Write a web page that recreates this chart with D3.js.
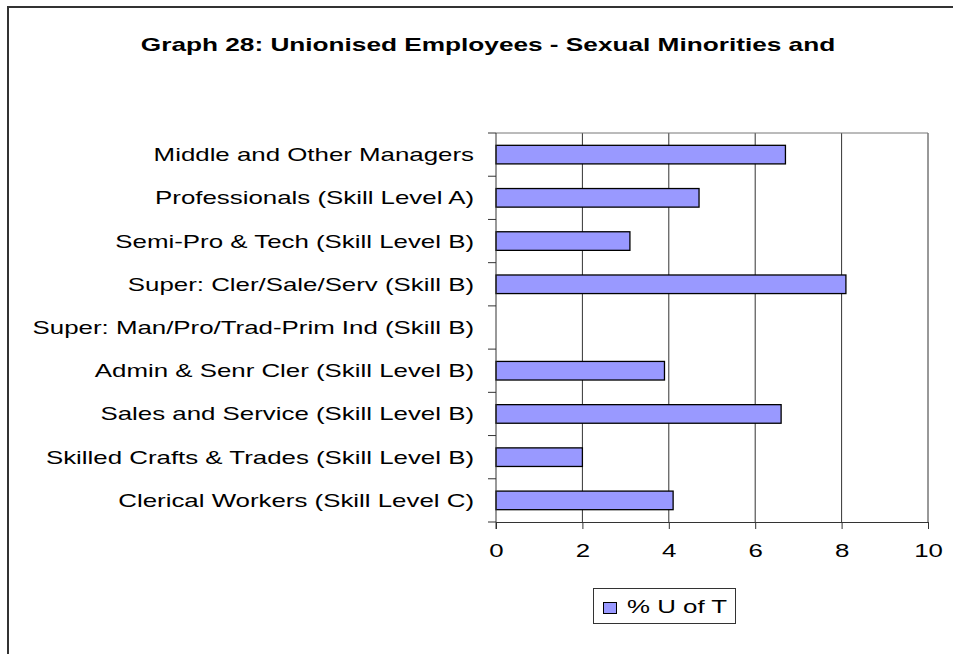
<!DOCTYPE html>
<html>
<head>
<meta charset="utf-8">
<script src="https://cdn.jsdelivr.net/npm/d3@7"></script>
<style>
  body { margin: 0; background: #fff; }
  svg { display: block; font-family: Arial, "Liberation Sans", sans-serif; }
</style>
</head>
<body>
<div id="chart"></div>
<script>
// categories, top to bottom
var categories = [
  "Middle and Other Managers",
  "Professionals (Skill Level A)",
  "Semi-Pro & Tech (Skill Level B)",
  "Super: Cler/Sale/Serv (Skill B)",
  "Super: Man/Pro/Trad-Prim Ind (Skill B)",
  "Admin & Senr Cler (Skill Level B)",
  "Sales and Service (Skill Level B)",
  "Skilled Crafts & Trades (Skill Level B)",
  "Clerical Workers (Skill Level C)"
];
var pctUofT = [6.7, 4.7, 3.1, 8.1, 0, 3.9, 6.6, 2.0, 4.1];
var xTicks = [0, 2, 4, 6, 8, 10];
var seriesName = "% U of T";
var title = "Graph 28: Unionised Employees - Sexual Minorities and";

var W = 953, H = 654;
var plotL = 496, plotR = 928, plotT = 133, plotB = 522;
var fs = 18.6;      // font size
var sx = 1.39;      // the original picture is stretched sideways

var svg = d3.select("#chart").append("svg")
  .attr("width", W)
  .attr("height", H);

// outer chart frame (runs off right and bottom edge)
svg.append("path")
  .attr("d", "M8," + (H + 5) + "V7H" + (W + 5))
  .attr("fill", "none")
  .attr("stroke", "#333")
  .attr("stroke-width", 2);

svg.append("text")
  .attr("transform", "translate(488,51) scale(1.38,1)")
  .attr("text-anchor", "middle")
  .attr("font-size", 19)
  .attr("font-weight", "bold")
  .text(title);

var x = d3.scaleLinear().domain([0, 10]).range([plotL, plotR]);
var y = d3.scaleBand().domain(categories).range([plotT, plotB])
  .paddingInner(0.57).paddingOuter(0.285);
var yEdges = d3.scaleBand().domain(categories).range([plotT, plotB]);

// vertical gridlines
svg.append("g")
  .selectAll("line")
  .data(xTicks.slice(1))
  .join("line")
  .attr("x1", d => x(d)).attr("x2", d => x(d))
  .attr("y1", plotT).attr("y2", plotB)
  .attr("stroke", "#333")
  .attr("stroke-width", 1);

// top border of plot area
svg.append("line")
  .attr("x1", plotL).attr("x2", plotR)
  .attr("y1", plotT).attr("y2", plotT)
  .attr("stroke", "#777")
  .attr("stroke-width", 1);

// bars
svg.append("g")
  .selectAll("rect")
  .data(pctUofT)
  .join("rect")
  .attr("x", x(0))
  .attr("y", (d, i) => y(categories[i]))
  .attr("width", d => x(d) - x(0))
  .attr("height", y.bandwidth())
  .attr("fill", d => d > 0 ? "#9999ff" : "none")
  .attr("stroke", d => d > 0 ? "#000" : "none")
  .attr("stroke-width", 1.3);

// x axis
var xAxis = svg.append("g")
  .attr("transform", "translate(0," + plotB + ")")
  .call(d3.axisBottom(x).tickValues(xTicks).tickSizeInner(7).tickSizeOuter(0).tickPadding(15));
xAxis.select(".domain").attr("stroke", "#333");
xAxis.selectAll(".tick line").attr("stroke", "#333");
xAxis.selectAll("text")
  .attr("font-size", fs)
  .attr("font-family", "Arial, 'Liberation Sans', sans-serif")
  .attr("fill", "#000")
  .attr("transform", "scale(" + sx + ",1)");

// y axis line with ticks at band edges
svg.append("line")
  .attr("x1", plotL).attr("x2", plotL)
  .attr("y1", plotT).attr("y2", plotB + 7)
  .attr("stroke", "#333");
svg.append("g")
  .selectAll("line")
  .data(categories.concat(["_end"]))
  .join("line")
  .attr("x1", plotL - 8).attr("x2", plotL)
  .attr("y1", (d, i) => plotT + i * yEdges.step())
  .attr("y2", (d, i) => plotT + i * yEdges.step())
  .attr("stroke", "#333");

// category labels
svg.append("g")
  .selectAll("text")
  .data(categories)
  .join("text")
  .attr("transform", d => "translate(474," + (yEdges(d) + yEdges.bandwidth() / 2) + ") scale(" + sx + ",1)")
  .attr("dy", "0.35em")
  .attr("text-anchor", "end")
  .attr("font-size", fs)
  .text(d => d);

// legend
var lg = svg.append("g");
lg.append("rect")
  .attr("x", 593.5).attr("y", 588.5)
  .attr("width", 142).attr("height", 35)
  .attr("fill", "#fff").attr("stroke", "#333");
lg.append("rect")
  .attr("x", 603.5).attr("y", 602.5)
  .attr("width", 13).attr("height", 11)
  .attr("fill", "#9999ff").attr("stroke", "#000");
lg.append("text")
  .attr("transform", "translate(627,613) scale(" + sx + ",1)")
  .attr("font-size", fs)
  .text(seriesName);
</script>
</body>
</html>
